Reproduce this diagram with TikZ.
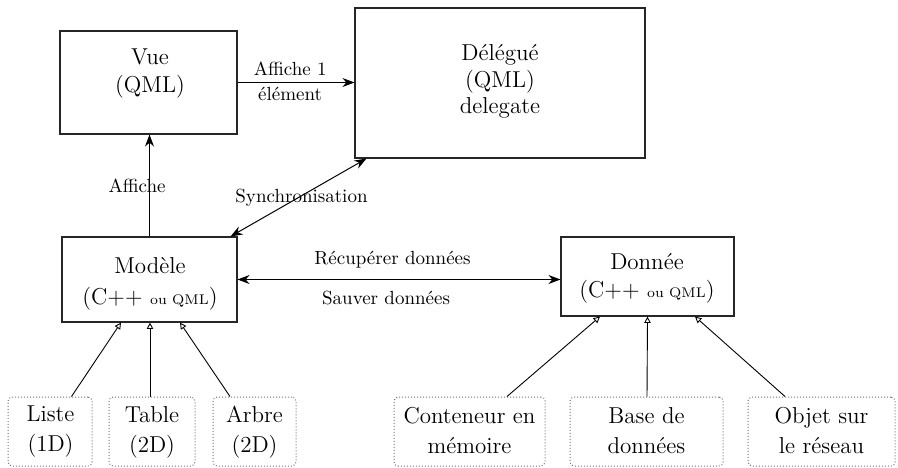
\documentclass[tikz,border=0pt]{standalone}
\usetikzlibrary{arrows.meta,fit,calc}
\begin{document}
\begin{tikzpicture}[x=0.5pt,y=-0.5pt,
  box/.style={draw=black!85, line width=0.55pt, inner sep=0pt},
  dbox/.style={draw=black!55, densely dotted, line width=0.5pt, rounded corners=2pt, inner sep=0pt},
  maintxt/.style={align=center, font=\fontsize{11.5}{14}\selectfont, inner sep=0pt},
  subtxt/.style={align=center, font=\fontsize{11.5}{15}\selectfont, inner sep=0pt},
  lbl/.style={font=\fontsize{9.5}{12}\selectfont, inner sep=0pt},
  conn/.style={line width=0.5pt, -{Stealth[length=6pt,width=4.5pt]}},
  bconn/.style={line width=0.5pt, {Stealth[length=6pt,width=4.5pt]}-{Stealth[length=6pt,width=4.5pt]}},
  inh/.style={line width=0.45pt, -{Triangle[open,length=3.2pt,width=3.2pt]}}]
\useasboundingbox (0,0) rectangle (898,467);

% main boxes
\node[box, fit={(60,31) (237,134)}] (vue) {};
\node[maintxt] (vuet) at (150,74) {Vue\\(QML)};
\node[box, fit={(355,8) (645,158)}] (del) {};
\node[maintxt, font=\fontsize{11.5}{13.25}\selectfont] (delt) at (500,81.5) {Délégué\\(QML)\\delegate};
\node[box, fit={(62,237) (237,322)}] (mod) {};
\node[maintxt, font=\fontsize{11.5}{15.5}\selectfont] (modt) at (150,283.5) {Modèle\\(C++ {\fontsize{7}{8}\selectfont ou QML})};
\node[box, fit={(561,237) (734,316)}] (don) {};
\node[maintxt] (dont) at (647,278) {Donnée\\(C++ {\fontsize{7}{8}\selectfont ou QML})};

% bottom boxes
\node[dbox, fit={(8,397) (92,466)}] (liste) {};
\node[subtxt] at (50.5,432) {Liste\\(1D)};
\node[dbox, fit={(109,397) (195,466)}] (table) {};
\node[subtxt] at (152,432) {Table\\(2D)};
\node[dbox, fit={(213,397) (296,466)}] (arbre) {};
\node[subtxt] at (254.5,432) {Arbre\\(2D)};
\node[dbox, fit={(394,397) (545,466)}] (cont) {};
\node[subtxt] at (469.5,431) {Conteneur en\\mémoire};
\node[dbox, fit={(570,397) (723,466)}] (base) {};
\node[subtxt] at (646.5,431) {Base de\\données};
\node[dbox, fit={(748,397) (895,466)}] (obj) {};
\node[subtxt] at (821.5,431) {Objet sur\\le réseau};

% connectors
\draw[conn] (vue.east) -- (vue.east -| del.west)
  node[lbl, pos=0.45, yshift=7pt] {Affiche 1}
  node[lbl, pos=0.45, yshift=-5.5pt] {élément};
\draw[conn] (mod.north) -- (mod.north |- vue.south)
  node[lbl, midway, xshift=-6.25pt] {Affiche};
\draw[bconn] ($(mod.north east)+(-7,0)$) -- ($(del.south west)+(12,0)$)
  node[lbl, midway, xshift=1.5pt] {Synchronisation};
\draw[bconn] (mod.east) -- (mod.east -| don.west)
  node[lbl, pos=0.48, yshift=10pt] {Récupérer données}
  node[lbl, pos=0.46, yshift=-9.5pt] {Sauver données};

\draw[inh] ($(liste.north)+(21.5,0)$) -- ($(mod.south)+(-28.5,0)$);
\draw[inh] ($(table.north)+(-2,0)$) -- ($(mod.south)+(0.5,0)$);
\draw[inh] ($(arbre.north)+(-24.5,0)$) -- ($(mod.south)+(30.5,0)$);
\draw[inh] ($(cont.north)+(37.5,0)$) -- ($(don.south)+(-47.5,0)$);
\draw[inh] ($(base.north)+(0.5,0)$) -- ($(don.south)+(0,0)$);
\draw[inh] ($(obj.north)+(-36.5,0)$) -- ($(don.south)+(47.5,0)$);
\end{tikzpicture}
\end{document}
